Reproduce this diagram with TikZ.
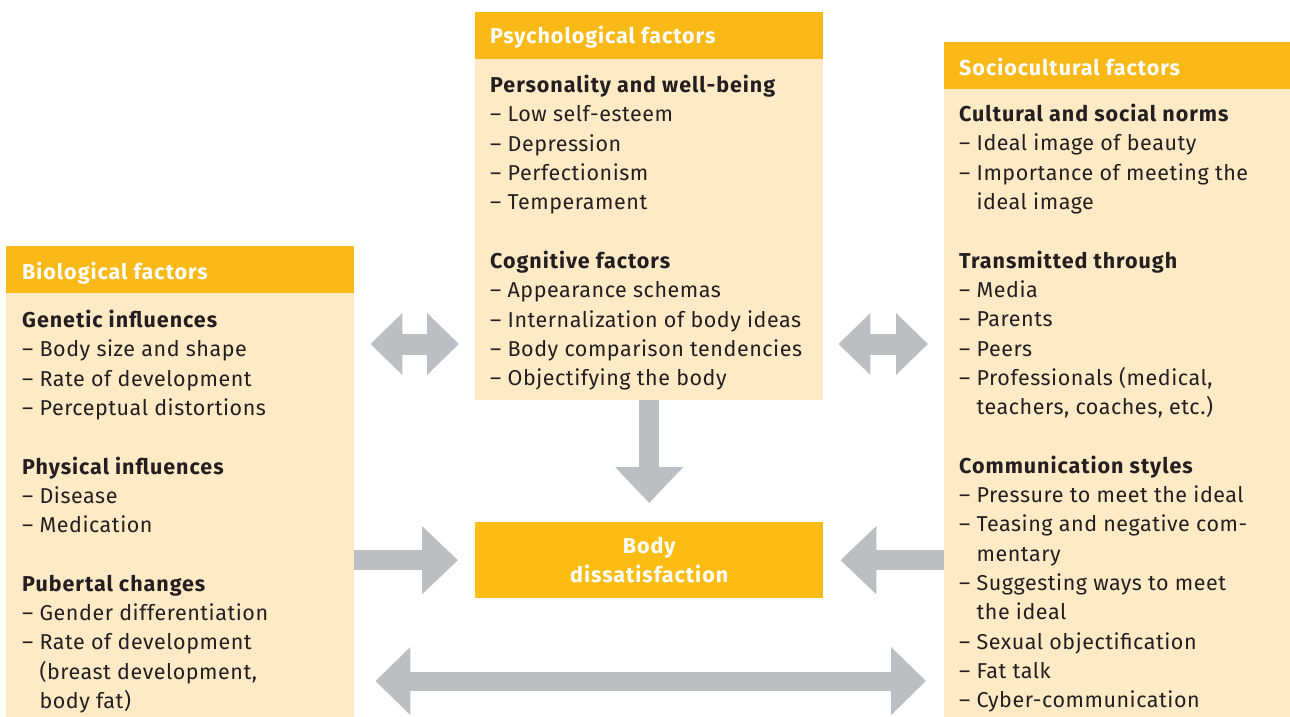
\documentclass[tikz,border=0pt]{standalone}
\usepackage{fontspec}
\setmainfont{Fira Sans}[LetterSpace=2.5, BoldFeatures={LetterSpace=4.5}]
\usetikzlibrary{arrows.meta, positioning}

\definecolor{headyellow}{HTML}{FBB917}
\definecolor{bodyyellow}{HTML}{FBBD14}
\definecolor{boxcream}{HTML}{FFEAC6}
\definecolor{arrowgray}{HTML}{BDBEC1}
\definecolor{textdark}{HTML}{231F20}

\newcommand{\cont}{\hphantom{– }}

\tikzset{
  panel/.style={fill=boxcream, inner sep=0, anchor=north west, minimum width=348pt},
  header/.style={fill=headyellow, inner sep=0, anchor=north west, minimum width=348pt, minimum height=47pt},
  headtext/.style={text=white, font=\fontsize{21.5}{24}\selectfont\bfseries, anchor=base west, inner sep=0},
  listtext/.style={text=textdark, font=\fontsize{21.5}{29.3}\selectfont, align=left, anchor=north west, inner sep=0},
  blockarrow/.style={arrowgray, line width=20pt, -{Triangle[length=36pt, width=66pt]}},
  dblarrow/.style={arrowgray, line width=21pt, {Triangle[length=32pt, width=60pt]}-{Triangle[length=32pt, width=60pt]}},
}

\begin{document}
\begin{tikzpicture}[x=1pt, y=-1pt]
\useasboundingbox (0,0) rectangle (1290,717);

% boxes
\node[panel, minimum height=471pt] (bio) at (6,246) {};
\node[header] (biohead) at (6,246) {};
\node[panel, minimum height=388pt] (psych) at (475,12) {};
\node[header] (psychhead) at (475,12) {};
\node[panel, minimum width=346pt, minimum height=675pt] (socio) at (944,42) {};
\node[header, minimum width=346pt] (sociohead) at (944,42) {};

\node[fill=bodyyellow, inner sep=0, anchor=north west, minimum width=348pt, minimum height=76pt,
  text=white, font=\fontsize{21.5}{29}\selectfont\bfseries, align=center] (body) at (475,522) {\rule{0pt}{2pt}Body\\dissatisfaction};

% titles
\node[headtext] (biotitle) at (22,279) {Biological factors};
\node[headtext] (psychtitle) at (490,44) {Psychological factors};
\node[headtext] (sociotitle) at (959,75) {Sociocultural factors};

% lists
\node[listtext] (biolist) at (22,310) {\textbf{Genetic influences}\\
– Body size and shape\\
– Rate of development\\
– Perceptual distortions\\[29.3pt]
\textbf{Physical influences}\\
– Disease\\
– Medication\\[29.3pt]
\textbf{Pubertal changes}\\
– Gender differentiation\\
– Rate of development\\
\cont(breast development,\\
\cont body fat)};

\node[listtext] (psychlist) at (490,75) {\textbf{Personality and well-being}\\
– Low self-esteem\\
– Depression\\
– Perfectionism\\
– Temperament\\[29.3pt]
\textbf{Cognitive factors}\\
– Appearance schemas\\
– Internalization of body ideas\\
– Body comparison tendencies\\
– Objectifying the body};

\node[listtext] (sociolist) at (959,104) {\textbf{Cultural and social norms}\\
– Ideal image of beauty\\
– Importance of meeting the\\
\cont ideal image\\[29.3pt]
\textbf{Transmitted through}\\
– Media\\
– Parents\\
– Peers\\
– Professionals (medical,\\
\cont teachers, coaches, etc.)\\[29.3pt]
\textbf{Communication styles}\\
– Pressure to meet the ideal\\
– Teasing and negative com-\\
\cont mentary\\
– Suggesting ways to meet\\
\cont the ideal\\
– Sexual objectification\\
– Fat talk\\
– Cyber-communication};

% arrows
\coordinate (upmid) at (0,344);
\coordinate (lowmid) at (0,681);
\draw[dblarrow] ([xshift=16pt]bio.east |- upmid) -- ([xshift=-16pt]psych.west |- upmid);
\draw[dblarrow] ([xshift=15pt]psych.east |- upmid) -- ([xshift=-16pt]socio.west |- upmid);
\draw[blockarrow, shorten >=19pt] (psych.south) -- (body.north);
\draw[blockarrow, shorten >=17pt] (bio.east |- body) -- (body.west);
\draw[blockarrow, shorten >=17pt] (socio.west |- body) -- (body.east);
\draw[dblarrow, line width=19pt, {Triangle[length=35pt, width=66pt]}-{Triangle[length=35pt, width=66pt]}]
  ([xshift=21pt]bio.east |- lowmid) -- ([xshift=-18pt]socio.west |- lowmid);
\end{tikzpicture}
\end{document}
